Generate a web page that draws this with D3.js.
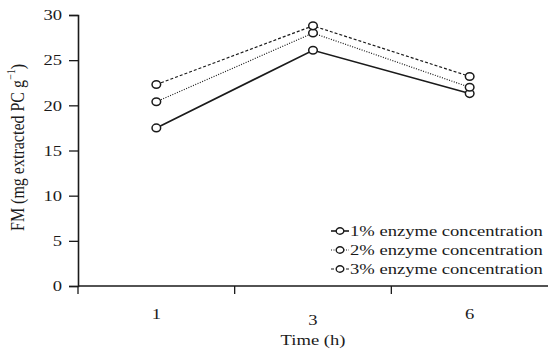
<!DOCTYPE html>
<html>
<head>
<meta charset="utf-8">
<script src="https://cdn.jsdelivr.net/npm/d3@7"></script>
<style>
  body { margin: 0; background: #fff; }
  svg { font-family: "Liberation Serif", "Times New Roman", serif; }
</style>
</head>
<body>
<svg width="548" height="354"></svg>
<script>
// data
var times = ["1", "3", "6"];
var pct1 = [17.5, 26.1, 21.3];
var pct2 = [20.4, 28.0, 22.0];
var pct3 = [22.3, 28.8, 23.2];
var seriesNames = ["1% enzyme concentration", "2% enzyme concentration", "3% enzyme concentration"];
var yTicks = [0, 5, 10, 15, 20, 25, 30];

var series = [
  { name: seriesNames[0], values: pct1, dash: null, width: 1.6 },
  { name: seriesNames[1], values: pct2, dash: "1,1.5", width: 1.2 },
  { name: seriesNames[2], values: pct3, dash: "3,2", width: 1.2 }
];

var svg = d3.select("svg");
var ink = "#1a1a1a";
var sx = 1.24; // the original figure is a bit wider than tall
var fs = 15;
var margin = { left: 78, top: 15, right: 0, bottom: 68 };
var width = 548, height = 354;

var x = d3.scaleBand().domain(times).range([margin.left, width]);
var y = d3.scaleLinear().domain([0, 30]).range([height - margin.bottom, margin.top]);

// y axis
var yAxis = svg.append("g")
  .attr("transform", "translate(" + margin.left + ",0)")
  .call(d3.axisLeft(y).tickValues(yTicks).tickSize(9).tickPadding(7));
yAxis.select(".domain").attr("stroke", ink).attr("stroke-width", 1.6);
yAxis.selectAll(".tick line").attr("stroke", ink).attr("stroke-width", 1.3);
yAxis.selectAll("text")
  .attr("font-size", fs).attr("fill", ink)
  .attr("font-family", "Liberation Serif")
  .attr("x", -16 / sx)
  .attr("transform", "scale(" + sx + ",1)");

// x axis: ticks at band edges, labels at band centres
var xAxisG = svg.append("g").attr("transform", "translate(0," + y(0) + ")");
xAxisG.append("line")
  .attr("x1", margin.left).attr("x2", width)
  .attr("stroke", ink).attr("stroke-width", 1.6);
xAxisG.selectAll("line.tk")
  .data(times)
  .enter().append("line")
  .attr("class", "tk")
  .attr("x1", function (d) { return x(d); })
  .attr("x2", function (d) { return x(d); })
  .attr("y1", 0).attr("y2", 8)
  .attr("stroke", ink).attr("stroke-width", 1.3);
xAxisG.selectAll("text")
  .data(times)
  .enter().append("text")
  .attr("transform", function (d) {
    return "translate(" + (x(d) + x.bandwidth() / 2) + "," + (d === "3" ? 39 : 33) + ") scale(" + sx + ",1)";
  })
  .attr("text-anchor", "middle")
  .attr("font-size", fs).attr("fill", ink)
  .text(function (d) { return d; });

// axis titles
svg.append("text")
  .attr("transform", "translate(" + (x("3") + x.bandwidth() / 2) + ",345) scale(" + sx + ",1)")
  .attr("text-anchor", "middle").attr("font-size", fs).attr("fill", ink)
  .text("Time (h)");

var yTitle = svg.append("text")
  .attr("transform", "translate(24," + (y(15) - 3) + ") scale(" + sx + ",1) rotate(-90)")
  .attr("text-anchor", "middle").attr("font-size", 16).attr("fill", ink);
yTitle.append("tspan").text("FM (mg extracted PC g");
yTitle.append("tspan").attr("font-size", 10).attr("dy", -7).text("\u22121");
yTitle.append("tspan").attr("dy", 7).text(")");

// lines and markers
var line = d3.line()
  .x(function (d, i) { return x(times[i]) + x.bandwidth() / 2; })
  .y(function (d) { return y(d); });

series.forEach(function (s) {
  svg.append("path")
    .datum(s.values)
    .attr("d", line)
    .attr("fill", "none")
    .attr("stroke", ink)
    .attr("stroke-width", s.width)
    .attr("stroke-dasharray", s.dash);
});
series.forEach(function (s) {
  svg.selectAll(null)
    .data(s.values)
    .enter().append("ellipse")
    .attr("cx", function (d, i) { return x(times[i]) + x.bandwidth() / 2; })
    .attr("cy", function (d) { return y(d); })
    .attr("rx", 4.3).attr("ry", 3.8)
    .attr("fill", "#fff")
    .attr("stroke", ink)
    .attr("stroke-width", 1.5);
});

// legend
var legend = svg.append("g").attr("transform", "translate(331,231)");
var rows = legend.selectAll("g")
  .data(series)
  .enter().append("g")
  .attr("transform", function (d, i) { return "translate(0," + (i * 19) + ")"; });
rows.append("line")
  .attr("x1", 0).attr("x2", 18)
  .attr("stroke", ink)
  .attr("stroke-width", function (d) { return d.width; })
  .attr("stroke-dasharray", function (d) { return d.dash; });
rows.append("ellipse")
  .attr("cx", 9).attr("rx", 3.8).attr("ry", 3.3)
  .attr("fill", "#fff").attr("stroke", ink).attr("stroke-width", 1.4);
rows.append("text")
  .attr("transform", "translate(19,5) scale(" + sx + ",1)")
  .attr("font-size", fs).attr("fill", ink)
  .text(function (d) { return d.name; });
</script>
</body>
</html>
